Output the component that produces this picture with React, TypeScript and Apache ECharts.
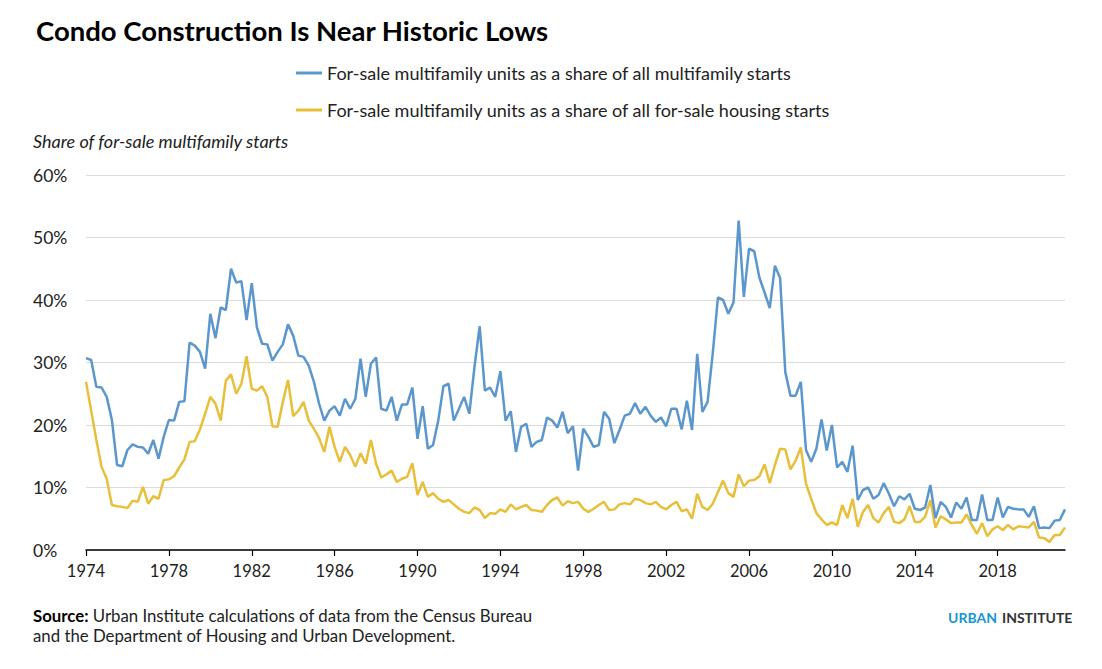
import React, { useEffect, useRef } from "react";
import * as echarts from "echarts";

const START_YEAR = 1974;
const QUARTERS = 190;
const categories: string[] = Array.from(
  { length: QUARTERS },
  (_, i) => `${START_YEAR + Math.floor(i / 4)} Q${(i % 4) + 1}`
);

const yTicks = [0, 10, 20, 30, 40, 50, 60];

const seriesNames = [
  "For-sale multifamily units as a share of all multifamily starts",
  "For-sale multifamily units as a share of all for-sale housing starts",
];

// For-sale multifamily units as a share of all multifamily starts (%)
const shareOfMultifamily = [
  30.7, 30.4, 26.1, 26.0, 24.5, 20.8, 13.6, 13.4, 16.0, 16.9,
  16.5, 16.4, 15.4, 17.6, 14.6, 18.1, 20.8, 20.7, 23.7, 23.8,
  33.2, 32.7, 31.7, 29.0, 37.8, 33.9, 38.8, 38.4, 45.0, 42.8,
  43.0, 36.8, 42.7, 35.6, 33.0, 32.9, 30.3, 31.7, 32.9, 36.1,
  34.3, 31.1, 30.9, 29.5, 26.9, 23.4, 20.7, 22.3, 23.0, 21.5,
  24.2, 22.6, 24.2, 30.6, 24.5, 29.8, 30.8, 22.6, 22.3, 24.5,
  20.7, 23.3, 23.3, 26.0, 17.8, 23.0, 16.2, 16.8, 20.7, 26.2,
  26.6, 20.7, 22.6, 24.5, 21.8, 29.3, 35.8, 25.5, 26.0, 24.5,
  28.6, 20.7, 22.2, 15.7, 19.7, 20.2, 16.5, 17.3, 17.6, 21.2,
  20.7, 19.6, 22.1, 18.7, 19.8, 12.7, 19.4, 18.1, 16.5, 16.8,
  22.1, 21.0, 17.1, 19.2, 21.5, 21.8, 23.5, 21.8, 22.9, 21.5,
  20.5, 21.2, 19.8, 22.6, 22.6, 19.3, 23.9, 19.2, 31.4, 22.1,
  23.7, 31.5, 40.4, 40.0, 37.8, 39.6, 52.7, 40.5, 48.2, 47.8,
  43.6, 41.2, 38.7, 45.5, 43.5, 28.5, 24.7, 24.7, 26.9, 16.0,
  14.1, 16.2, 20.9, 15.9, 20.0, 13.2, 14.1, 12.5, 16.7, 8.0,
  9.6, 10.0, 8.2, 8.8, 10.7, 9.0, 7.0, 8.6, 8.1, 9.0,
  6.6, 6.4, 6.8, 10.4, 5.1, 7.7, 6.9, 5.2, 7.6, 6.6,
  8.4, 4.8, 4.8, 8.9, 4.8, 4.8, 8.4, 5.2, 6.9, 6.6,
  6.5, 6.5, 5.3, 7.0, 3.5, 3.6, 3.5, 4.7, 4.8, 6.5,
];

// For-sale multifamily units as a share of all for-sale housing starts (%)
const shareOfForSale = [
  26.9, 22.3, 17.6, 13.3, 11.4, 7.2, 7.0, 6.9, 6.7, 7.9,
  7.7, 10.1, 7.4, 8.6, 8.2, 11.2, 11.3, 11.8, 13.2, 14.5,
  17.3, 17.4, 19.3, 21.8, 24.5, 23.4, 20.7, 27.1, 28.1, 25.0,
  26.6, 31.0, 25.8, 25.5, 26.2, 24.5, 19.8, 19.7, 23.7, 27.2,
  21.4, 22.3, 23.7, 20.7, 19.4, 17.9, 15.7, 19.7, 16.5, 14.1,
  16.5, 15.2, 13.3, 15.5, 13.8, 17.6, 13.8, 11.6, 12.1, 12.7,
  10.9, 11.4, 11.7, 13.9, 8.8, 10.9, 8.5, 9.1, 8.2, 7.7,
  8.0, 7.3, 6.6, 6.1, 5.9, 6.8, 6.4, 5.1, 5.9, 5.8,
  6.5, 6.1, 7.3, 6.5, 6.9, 7.2, 6.4, 6.3, 6.1, 7.2,
  8.0, 8.4, 7.1, 7.8, 7.5, 7.7, 6.6, 6.1, 6.6, 7.2,
  7.7, 6.4, 6.5, 7.3, 7.5, 7.3, 8.2, 8.0, 7.5, 7.3,
  7.7, 6.9, 6.5, 7.2, 7.7, 6.2, 6.5, 5.0, 9.0, 6.9,
  6.4, 7.4, 9.3, 11.1, 9.1, 8.5, 12.1, 10.2, 11.1, 11.2,
  11.8, 13.7, 10.7, 13.6, 16.2, 16.1, 12.9, 14.3, 16.4, 10.6,
  8.2, 5.9, 4.9, 4.0, 4.4, 4.0, 7.2, 5.1, 8.2, 3.7,
  6.1, 7.2, 5.1, 4.4, 5.9, 6.9, 4.5, 4.3, 4.9, 7.0,
  4.5, 4.5, 5.3, 8.0, 3.6, 5.4, 4.9, 4.3, 4.4, 4.4,
  5.7, 4.0, 2.6, 4.3, 2.2, 3.3, 3.8, 3.2, 4.0, 3.3,
  3.8, 3.7, 3.6, 4.5, 2.0, 1.9, 1.3, 2.4, 2.4, 3.6,
];

const BLUE = "#5b97cc";
const YELLOW = "#e8bf3a";
const FONT = 'Lato, "Open Sans", sans-serif';

export default function App() {
  const ref = useRef<HTMLDivElement>(null);

  useEffect(() => {
    if (!ref.current) return;
    const chart = echarts.init(ref.current, null, { renderer: "svg" });
    const showTick = (index: number) => index % 16 === 0;
    chart.setOption({
      animation: false,
      backgroundColor: "#ffffff",
      textStyle: { fontFamily: FONT },
      title: {
        text: "Condo Construction Is Near Historic Lows",
        left: 31,
        top: 11,
        textStyle: {
          fontFamily: FONT,
          fontSize: 27.5,
          fontWeight: "bold",
          color: "#000000",
        },
      },
      legend: {
        orient: "vertical",
        left: 291,
        top: 58,
        icon: "rect",
        itemWidth: 26,
        itemHeight: 3,
        itemGap: 17,
        data: seriesNames,
        textStyle: { fontFamily: FONT, fontSize: 18, color: "#222", lineHeight: 20 },
      },
      grid: { left: 86, right: 37, top: 175, bottom: 119, containLabel: false },
      xAxis: {
        type: "category",
        data: categories,
        boundaryGap: false,
        axisLine: { show: true, lineStyle: { color: "#000", width: 1.5 } },
        axisTick: {
          show: true,
          interval: (index: number) => showTick(index),
          length: 6,
          lineStyle: { color: "#000", width: 1.2 },
        },
        axisLabel: {
          interval: (index: number) => showTick(index),
          formatter: (value: string) => value.split(" ")[0],
          fontFamily: FONT,
          fontSize: 16.5,
          color: "#222",
          margin: 12,
        },
        splitLine: { show: false },
      },
      yAxis: {
        type: "value",
        min: yTicks[0],
        max: yTicks[yTicks.length - 1],
        interval: 10,
        axisLine: { show: false },
        axisTick: { show: false },
        axisLabel: {
          formatter: "{value}%",
          align: "left",
          margin: 53,
          fontFamily: FONT,
          fontSize: 17.5,
          color: "#222",
        },
        splitLine: { show: true, lineStyle: { color: "#dcdcdc", width: 1 } },
      },
      series: [
        {
          name: seriesNames[0],
          type: "line",
          data: shareOfMultifamily,
          symbol: "none",
          lineStyle: { color: BLUE, width: 2.5 },
          itemStyle: { color: BLUE },
          z: 3,
        },
        {
          name: seriesNames[1],
          type: "line",
          data: shareOfForSale,
          symbol: "none",
          lineStyle: { color: YELLOW, width: 2.5 },
          itemStyle: { color: YELLOW },
          z: 2,
        },
      ],
      graphic: [
        {
          type: "text",
          left: 33,
          top: 132,
          style: {
            text: "Share of for-sale multifamily starts",
            fontFamily: FONT,
            fontStyle: "italic",
            fontSize: 18,
            fill: "#222",
          },
        },
        {
          type: "text",
          left: 33,
          top: 606,
          style: {
            text:
              "{b|Source:} Urban Institute calculations of data from the Census Bureau\nand the Department of Housing and Urban Development.",
            fontFamily: FONT,
            fontSize: 16.8,
            lineHeight: 19.5,
            fill: "#222",
            rich: {
              b: { fontFamily: FONT, fontSize: 16.8, fontWeight: "bold", fill: "#000" },
            },
          },
        },
        {
          type: "text",
          right: 105,
          top: 610,
          style: {
            text: "URBAN",
            fontFamily: FONT,
            fontSize: 14,
            fontWeight: "bold",
            fill: "#1696d2",
          },
        },
        {
          type: "text",
          left: 1002,
          top: 610,
          style: {
            text: "INSTITUTE",
            fontFamily: FONT,
            fontSize: 14,
            fontWeight: "bold",
            fill: "#333",
          },
        },
      ],
    });
    return () => chart.dispose();
  }, []);

  return (
    <div
      ref={ref}
      style={{ position: "fixed", left: 0, top: 0, width: 1102, height: 669 }}
    />
  );
}
